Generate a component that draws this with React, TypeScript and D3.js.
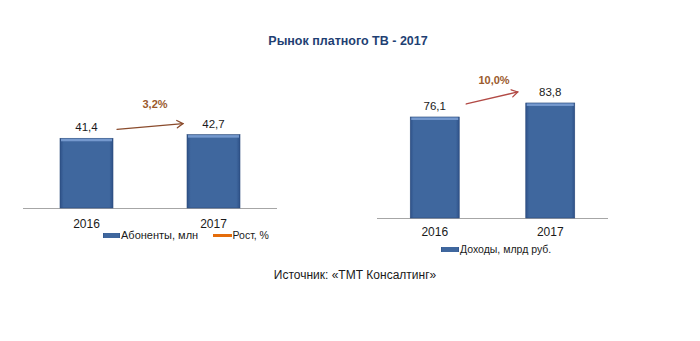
import React from "react";
import * as d3 from "d3";

const categories = ["2016", "2017"];
const subscribers = [41.4, 42.7];
const revenue = [76.1, 83.8];
const growthSubscribers = 3.2;
const growthRevenue = 10.0;

const title = "Рынок платного ТВ - 2017";
const source = "Источник: «ТМТ Консалтинг»";
const legendSubs = "Абоненты, млн";
const legendGrowth = "Рост, %";
const legendRevenue = "Доходы, млрд руб.";

const W = 700;
const H = 341;
const FONT = "'Liberation Sans', Arial, sans-serif";

const fmt = (v: number) => d3.format(".1f")(v).replace(".", ",");

function Bar({ x, y, w, h }: { x: number; y: number; w: number; h: number }) {
  return (
    <g>
      <rect x={x} y={y} width={w} height={h} fill="url(#barGrad)" stroke="#2C4C7C" strokeWidth={0.6} />
      <rect x={x + 1} y={y + 0.5} width={w - 2} height={2.5} fill="#7B9FD3" opacity={0.9} />
    </g>
  );
}

function Arrow({ x1, y1, x2, y2, color }: { x1: number; y1: number; x2: number; y2: number; color: string }) {
  const ang = Math.atan2(y2 - y1, x2 - x1);
  const L = 7;
  const a1 = ang + Math.PI - 0.55;
  const a2 = ang + Math.PI + 0.55;
  return (
    <g stroke={color} strokeWidth={1.3} fill="none" strokeLinecap="round">
      <line x1={x1} y1={y1} x2={x2} y2={y2} />
      <polyline
        points={`${x2 + L * Math.cos(a1)},${y2 + L * Math.sin(a1)} ${x2},${y2} ${x2 + L * Math.cos(a2)},${y2 + L * Math.sin(a2)}`}
      />
    </g>
  );
}

export default function App() {
  // Left chart
  const lx = d3.scalePoint<string>().domain(categories).range([23, 277]).padding(0.5);
  const ly = d3.scaleLinear().domain([16.5, 76.5]).range([208, 40]);
  const lbw = 53;
  // Right chart
  const rx = d3.scalePoint<string>().domain(categories).range([377, 608]).padding(0.5);
  const ry = d3.scaleLinear().domain([20.6, 118.4]).range([218, 40]);
  const rbw = 49;

  const lA = {
    x1: (lx(categories[0]) as number) + lbw / 2 + 4,
    y1: ly(subscribers[0]) - 9,
    x2: (lx(categories[1]) as number) - lbw / 2 - 4,
    y2: ly(subscribers[1]) - 11,
  };
  const rA = {
    x1: (rx(categories[0]) as number) + rbw / 2 + 7,
    y1: ry(revenue[0]) - 13,
    x2: (rx(categories[1]) as number) - rbw / 2 - 8,
    y2: ry(revenue[1]) - 11,
  };

  return (
    <svg width={W} height={H} style={{ position: "absolute", left: 0, top: 0, background: "#fff" }} fontFamily={FONT}>
      <defs>
        <linearGradient id="barGrad" x1="0" x2="1" y1="0" y2="0">
          <stop offset="0" stopColor="#2E5188" />
          <stop offset="0.07" stopColor="#3F679E" />
          <stop offset="0.93" stopColor="#3F679E" />
          <stop offset="1" stopColor="#2E5188" />
        </linearGradient>
      </defs>
      <rect width={W} height={H} fill="#fff" />
      <text x={348} y={45} textAnchor="middle" fontSize={12.5} fontWeight="bold" fill="#1F3F73">
        {title}
      </text>

      {/* Left chart */}
      <line x1={23} x2={277} y1={208.5} y2={208.5} stroke="#A6A6A6" strokeWidth={1} />
      {categories.map((c, i) => {
        const cx = lx(c) as number;
        const top = ly(subscribers[i]);
        return (
          <g key={"l" + c}>
            <Bar x={cx - lbw / 2} y={top} w={lbw} h={ly.range()[0] - top} />
            <text x={cx} y={top - 7} textAnchor="middle" fontSize={11.5} fill="#1a1a1a">
              {fmt(subscribers[i])}
            </text>
            <text x={cx} y={228} textAnchor="middle" fontSize={12} fill="#1a1a1a">
              {c}
            </text>
          </g>
        );
      })}
      <Arrow {...lA} color="#8A4B2C" />
      <text x={(lA.x1 + lA.x2) / 2 + 5} y={108} textAnchor="middle" fontSize={11} fontWeight="bold" fill="#9B5A2C">
        {fmt(growthSubscribers) + "%"}
      </text>
      <rect x={103} y={233} width={17} height={5} fill="url(#barGrad)" />
      <text x={121} y={239} fontSize={11} fill="#1a1a1a">
        {legendSubs}
      </text>
      <line x1={213} x2={232} y1={235.5} y2={235.5} stroke="#E46C0A" strokeWidth={3} />
      <text x={232.5} y={239} fontSize={10.5} fill="#1a1a1a">
        {legendGrowth}
      </text>

      {/* Right chart */}
      <line x1={377} x2={608} y1={218.5} y2={218.5} stroke="#A6A6A6" strokeWidth={1} />
      {categories.map((c, i) => {
        const cx = rx(c) as number;
        const top = ry(revenue[i]);
        return (
          <g key={"r" + c}>
            <Bar x={cx - rbw / 2} y={top} w={rbw} h={ry.range()[0] - top} />
            <text x={cx} y={top - 7} textAnchor="middle" fontSize={11.5} fill="#1a1a1a">
              {fmt(revenue[i])}
            </text>
            <text x={cx} y={236} textAnchor="middle" fontSize={12} fill="#1a1a1a">
              {c}
            </text>
          </g>
        );
      })}
      <Arrow {...rA} color="#B24A45" />
      <text x={(rA.x1 + rA.x2) / 2 + 2} y={84} textAnchor="middle" fontSize={11} fontWeight="bold" fill="#9B5A2C">
        {fmt(growthRevenue) + "%"}
      </text>
      <rect x={441} y={247} width={18} height={5} fill="url(#barGrad)" />
      <text x={460} y={253} fontSize={10.5} fill="#1a1a1a">
        {legendRevenue}
      </text>

      <text x={355} y={279} textAnchor="middle" fontSize={12} fill="#1a1a1a">
        {source}
      </text>
    </svg>
  );
}
